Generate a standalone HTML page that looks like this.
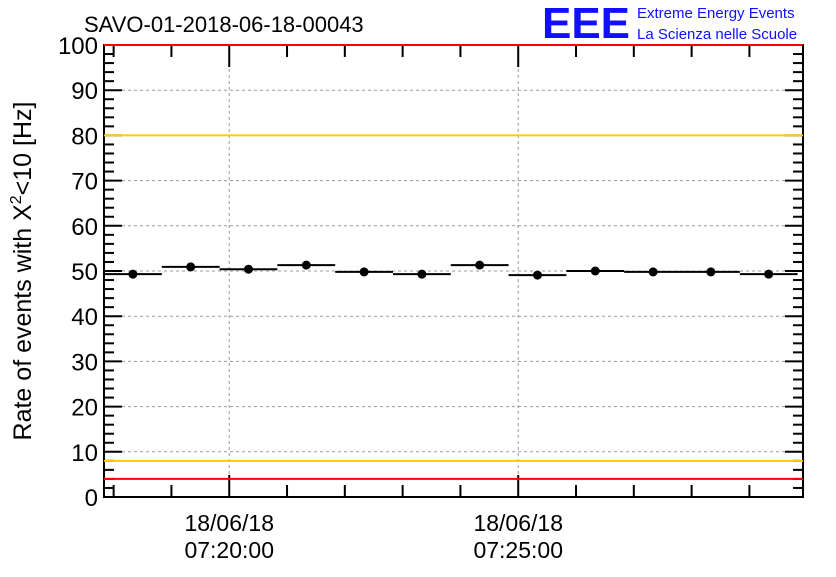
<!DOCTYPE html>
<html><head><meta charset="utf-8"><style>
body{margin:0;background:#fff;}
svg text{font-family:"Liberation Sans",sans-serif;}
</style></head><body>
<svg id="c" width="836" height="572" xmlns="http://www.w3.org/2000/svg">
<text x="84" y="32" font-size="22">SAVO-01-2018-06-18-00043</text>
<text x="542" y="38" font-size="44" font-weight="bold" fill="#1010ff" textLength="88" lengthAdjust="spacingAndGlyphs">EEE</text>
<text x="637" y="18" font-size="15" fill="#1010ff">Extreme Energy Events</text>
<text x="637" y="39" font-size="15" fill="#1010ff">La Scienza nelle Scuole</text>
<text transform="translate(31,271) rotate(-90)" text-anchor="middle" font-size="25">Rate of events with X<tspan dy="-10" font-size="16">2</tspan><tspan dy="10">&lt;10 [Hz]</tspan></text>
<g id="grid"></g><g id="axes"></g><g id="marks"></g>
</svg>
<script>
const binStartSec = [0,60,120,180,240,300,360,420,480,540,600,660];
const rates = [49.3,50.9,50.4,51.3,49.8,49.3,51.3,49.1,50.0,49.8,49.8,49.3];
const yTicks = [0,10,20,30,40,50,60,70,80,90,100];
const xTickSec = [130,430];
const xTickDates = ["18/06/18","18/06/18"];
const xTickTimes = ["07:20:00","07:25:00"];
const yellowLevels = [8,80];
const redLevels = [4,100];
const binWidth = 60;

const L=104,R=803,T=45,B=497;
const xs=s=>L+s*0.9633;
const ys=v=>B-(v/100)*(B-T);
const NS="http://www.w3.org/2000/svg";
function mk(p,tag,a){const e=document.createElementNS(NS,tag);for(const k in a)e.setAttribute(k,a[k]);p.appendChild(e);return e;}
const grid=document.getElementById('grid'),axes=document.getElementById('axes'),marks=document.getElementById('marks');

yTicks.forEach(v=>{
  if(v>0&&v<100){const g=mk(grid,'line',{x1:L,x2:R,y1:ys(v),y2:ys(v),stroke:'#999','stroke-dasharray':'3,3'});
  
  }
  const t=mk(axes,'text',{x:L-6,y:ys(v)+9,'text-anchor':'end','font-size':'24'});t.textContent=v;
  
  
});
for(let v=0;v<=100;v+=2){const big=v%10===0;const len=big?18:10;
  mk(axes,'line',{x1:L,x2:L+len,y1:ys(v),y2:ys(v),stroke:'#000','stroke-width':2});
  mk(axes,'line',{x1:R-len,x2:R,y1:ys(v),y2:ys(v),stroke:'#000','stroke-width':2});}
xTickSec.forEach((s,i)=>{
  const g=mk(grid,'line',{x1:xs(s),x2:xs(s),y1:T,y2:B,stroke:'#999','stroke-dasharray':'3,3'});
  
  
  const t1=mk(axes,'text',{x:xs(s),y:531,'text-anchor':'middle','font-size':'23'});t1.textContent=xTickDates[i];
  
  
  const t2=mk(axes,'text',{x:xs(s),y:558,'text-anchor':'middle','font-size':'23'});t2.textContent=xTickTimes[i];
  
  
});
for(let s=10;xs(s)<R;s+=60){const big=xTickSec.includes(s);const len=big?22:12;
  mk(axes,'line',{x1:xs(s),x2:xs(s),y1:B,y2:B-len,stroke:'#000','stroke-width':2});
  mk(axes,'line',{x1:xs(s),x2:xs(s),y1:T,y2:T+len,stroke:'#000','stroke-width':2});}
yellowLevels.forEach(v=>{const l=mk(marks,'line',{x1:L,x2:R,y1:ys(v),y2:ys(v),stroke:'#ffcc00','stroke-width':2});
  
  });
redLevels.forEach(v=>{const l=mk(marks,'line',{x1:L,x2:R,y1:ys(v),y2:ys(v),stroke:'#ff0000','stroke-width':2});
  
  });
mk(axes,'rect',{x:L,y:T,width:R-L,height:B-T,fill:'none',stroke:'#000','stroke-width':2});
mk(marks,'line',{x1:L,x2:R,y1:ys(100),y2:ys(100),stroke:'#ff0000','stroke-width':2});
binStartSec.forEach((s,i)=>{
  const y=ys(rates[i]);
  const l=mk(marks,'line',{x1:xs(s),x2:xs(s+binWidth),y1:y,y2:y,stroke:'#000','stroke-width':2});
  
  
  const c=mk(marks,'circle',{cx:xs(s+binWidth/2),cy:y,r:4.5,fill:'#000'});
  
  
});
</script>
</body></html>
